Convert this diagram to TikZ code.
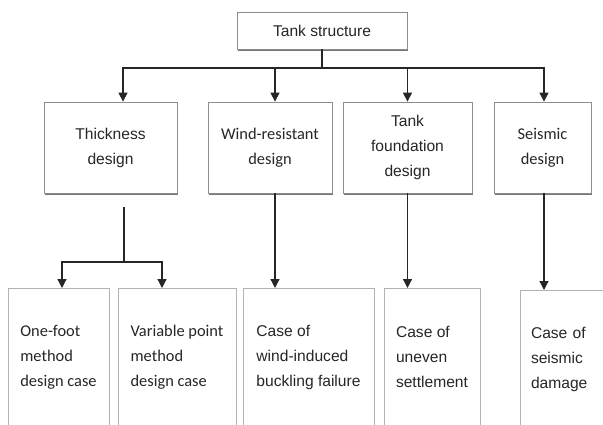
\documentclass[tikz,border=0pt]{standalone}
\usepackage{fontspec}
\setmainfont{Liberation Sans}
\newfontfamily\calfont{Carlito}
\usetikzlibrary{arrows.meta,shadows}
\newcommand{\arl}{\fontsize{15.6}{25}\selectfont}
\newcommand{\clb}{\calfont\fontsize{16.4}{25}\selectfont}

\begin{document}
\begin{tikzpicture}[x=1pt, y=-1pt,
		box/.style={draw=black!45, fill=white, line width=0.8pt, text=black!85, align=center, inner sep=0pt,
			drop shadow={shadow xshift=0.5pt, shadow yshift=-1.8pt, fill=black!60, opacity=0.9}},
		casebox/.style={draw=black!30, fill=white, line width=0.8pt, text=black!85, align=left, anchor=north,
			inner xsep=11pt, inner ysep=0pt, minimum height=138pt},
		link/.style={draw=black!85, line width=1.2pt},
		arrow/.style={link, -{Triangle[width=9pt,length=9pt]}}]
	\useasboundingbox (0,0) rectangle (603,424);
	\clip (0,0) rectangle (603,424);

	\node[box, minimum width=170pt, minimum height=37pt, font=\arl] (tank) at (322,30.5) {Tank structure};

	\node[box, minimum width=133pt, minimum height=91pt, font=\arl] (thick) at (110.5,147.5) {Thickness\\design};
	\node[box, minimum width=124pt, minimum height=91pt, font=\clb] (wind) at (270,147.5) {Wind-resistant\\design};
	\node[box, minimum width=129pt, minimum height=91pt, font=\arl] (found) at (407.5,147.5) {Tank\\foundation\\design};
	\node[box, minimum width=97pt, minimum height=91pt, font=\clb] (seis) at (542.5,147.5) {Seismic\\design};

	\node[casebox, minimum width=101pt, font=\clb] (onefoot) at (58.5,288) {One-foot\\method\\design case};
	\node[casebox, minimum width=118pt, font=\clb] (varpoint) at (177,288) {Variable point\\method\\design case};
	\node[casebox, minimum width=131pt, font=\arl] (windcase) at (308.5,288) {Case of\\wind-induced\\buckling failure};
	\node[casebox, minimum width=96pt, font=\arl] (uneven) at (432,288) {Case of\\uneven\\settlement};
	\node[casebox, text width=64pt, font=\arl] (seiscase) at (563,290) {Case of\\seismic\\damage};

	\coordinate (bus) at (322,68);
	\coordinate (tstem) at (124,207);
	\coordinate (split) at (124,262);

	\draw[link] (tank.south) -- (bus);
	\draw[arrow] (bus) -| ([xshift=12.5pt]thick.north);
	\draw[arrow] (bus) -| ([xshift=5pt]wind.north);
	\draw[arrow] (bus) -| (found.north);
	\draw[arrow] (bus) -| ([xshift=1.5pt]seis.north);

	\draw[link] (tstem) -- (split);
	\draw[arrow] (split) -| ([xshift=3.5pt]onefoot.north);
	\draw[arrow] (split) -| ([xshift=-15pt]varpoint.north);
	\draw[arrow] ([xshift=5pt]wind.south) -- ([xshift=5pt]wind.south |- windcase.north);
	\draw[arrow] (found.south) -- (found.south |- uneven.north);
	\draw[arrow] ([xshift=1.5pt]seis.south) -- ([xshift=1.5pt]seis.south |- seiscase.north);
\end{tikzpicture}
\end{document}
